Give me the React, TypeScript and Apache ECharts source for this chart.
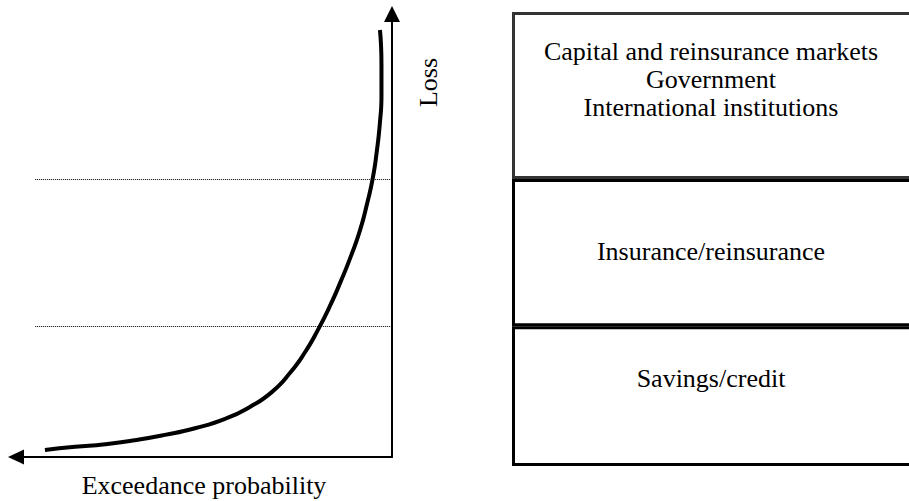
import React, { useEffect, useRef } from "react";
import * as echarts from "echarts";

// Loss exceedance curve
const exceedanceProbability = [0.923, 0.843, 0.763, 0.684, 0.604, 0.524, 0.444, 0.378, 0.319, 0.271, 0.231, 0.197, 0.165, 0.136, 0.109, 0.085, 0.066, 0.051, 0.04, 0.032, 0.028, 0.028, 0.032];
const lossValues = [0.016, 0.023, 0.029, 0.038, 0.05, 0.065, 0.086, 0.113, 0.147, 0.19, 0.237, 0.287, 0.341, 0.397, 0.454, 0.512, 0.573, 0.63, 0.693, 0.756, 0.817, 0.885, 0.964];

// Loss thresholds separating the layers (dotted lines)
const layerThresholds = [0.296, 0.628];
const thresholdStartProbability = 0.949;

// Risk layers (bottom to top) and their relative heights in the box
const layerNames = [
  "Savings/credit",
  "Insurance/reinsurance",
  "Capital and reinsurance markets\nGovernment\nInternational institutions",
];
const layerShares = [30.8, 32.4, 36.8];
const layerLabelDistance = [38, 58, 25];

const xAxisName = "Exceedance probability";
const yAxisName = "Loss";

const FONT = "'Liberation Serif', 'Times New Roman', serif";

export default function App() {
  const ref = useRef<HTMLDivElement>(null);

  useEffect(() => {
    if (!ref.current) return;
    const chart = echarts.init(ref.current, null, { renderer: "svg" });

    const curve = exceedanceProbability.map((p, i) => [p, lossValues[i]]);

    const option: any = {
      animation: false,
      backgroundColor: "#ffffff",
      grid: [
        { left: 16, top: 14, width: 376, height: 443, outerBoundsMode: "none" },
        { left: 512, top: 12, width: 404, height: 454, outerBoundsMode: "none" },
      ],
      xAxis: [
        {
          gridIndex: 0,
          type: "value",
          min: 0,
          max: 1,
          inverse: true,
          axisLine: {
            show: true,
            onZero: false,
            symbol: ["triangle", "none"],
            symbolSize: [15, 16],
            lineStyle: { color: "#000", width: 2 },
          },
          axisTick: { show: false },
          axisLabel: { show: false },
          splitLine: { show: false },
          name: xAxisName,
          nameLocation: "middle",
          nameGap: 15,
          nameTextStyle: { fontSize: 26, fontFamily: FONT, color: "#000" },
        },
        {
          gridIndex: 1,
          type: "category",
          data: ["layers"],
          show: false,
        },
      ],
      yAxis: [
        {
          gridIndex: 0,
          type: "value",
          min: 0,
          max: 1,
          position: "right",
          axisLine: {
            show: true,
            onZero: false,
            symbol: ["none", "triangle"],
            symbolSize: [16, 16],
            lineStyle: { color: "#000", width: 2 },
          },
          axisTick: { show: false },
          axisLabel: { show: false },
          splitLine: { show: false },
        },
        {
          gridIndex: 1,
          type: "value",
          min: 0,
          max: 100,
          show: false,
        },
      ],
      graphic: [
        {
          type: "text",
          x: 428,
          y: 82.5,
          rotation: Math.PI / 2,
          style: {
            text: yAxisName,
            fontSize: 26,
            fontFamily: FONT,
            fill: "#000",
            align: "center",
            verticalAlign: "middle",
          },
        },
      ],
      series: [
        {
          type: "line",
          xAxisIndex: 0,
          yAxisIndex: 0,
          data: curve,
          smooth: 0.55,
          showSymbol: false,
          symbol: "none",
          lineStyle: { color: "#000", width: 4 },
          markLine: {
            silent: true,
            symbol: ["none", "none"],
            label: { show: false },
            lineStyle: { type: "dotted", width: 1, color: "#000" },
            data: layerThresholds.map((t) => [
              { coord: [thresholdStartProbability, t] },
              { coord: [0, t] },
            ]),
          },
        },
        ...layerNames.map((name, i) => ({
          type: "bar",
          xAxisIndex: 1,
          yAxisIndex: 1,
          stack: "layers",
          barWidth: "100%",
          data: [layerShares[i]],
          itemStyle: {
            color: "rgba(255,255,255,0)",
            borderColor: i === 2 ? "#333" : "#000",
            borderWidth: 3,
          },
          label: {
            show: true,
            position: "insideTop",
            distance: layerLabelDistance[i],
            offset: [-3, 0],
            formatter: name,
            fontSize: 26,
            lineHeight: 28,
            fontFamily: FONT,
            color: "#000",
            align: "center",
          },
        })),
      ],
    };

    chart.setOption(option);
    return () => chart.dispose();
  }, []);

  return (
    <div
      ref={ref}
      style={{ position: "fixed", left: 0, top: 0, width: 909, height: 501, background: "#fff" }}
    />
  );
}
